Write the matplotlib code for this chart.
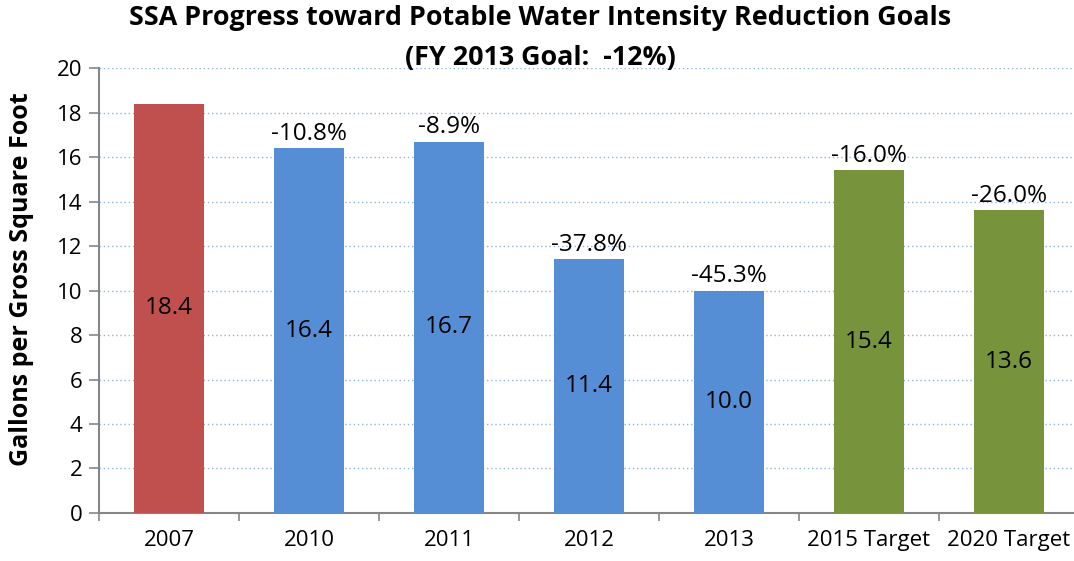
import matplotlib
matplotlib.use("Agg")
import matplotlib.pyplot as plt
import numpy as np

plt.rcParams['font.family'] = ['Open Sans', 'DejaVu Sans']

# data
categories = ["2007", "2010", "2011", "2012", "2013", "2015 Target", "2020 Target"]
values = [18.4, 16.4, 16.7, 11.4, 10.0, 15.4, 13.6]
changes = [None, "-10.8%", "-8.9%", "-37.8%", "-45.3%", "-16.0%", "-26.0%"]
colors = ["#C0504D", "#558ED5", "#558ED5", "#558ED5", "#558ED5", "#77933C", "#77933C"]

fig = plt.figure(figsize=(10.74, 5.61), dpi=100)
# plot area runs a little past the right edge of the picture, as in the original
ax = fig.add_axes([0.0922, 0.0856, 0.9125, 0.793])

x = np.arange(len(categories))
bars = ax.bar(x, values, width=0.5, color=colors, zorder=3)

for xi, v, c in zip(x, values, changes):
    ax.text(xi, v / 2, f"{v:.1f}", ha="center", va="center", fontsize=17.5, zorder=4)
    if c:
        ax.text(xi, v + 0.1, c, ha="center", va="bottom", fontsize=17.5, zorder=4)

ax.set_xlim(-0.5, len(categories) - 0.5)
ax.set_ylim(0, 20)
ax.set_yticks(range(0, 21, 2))
ax.set_xticks(x)
ax.set_xticklabels(categories)
ax.set_xticks(np.arange(-0.5, len(categories), 1), minor=True)
ax.tick_params(axis="x", which="major", length=0, pad=12, labelsize=16)
ax.tick_params(axis="x", which="minor", length=6, width=1.2, color="#868686", direction="out")
ax.tick_params(axis="y", length=7, width=1.2, color="#868686", labelsize=16, pad=5)

ax.grid(axis="y", linestyle=(0, (1, 2)), color="#8EB4E3", linewidth=1, zorder=0)
for side in ["top", "right"]:
    ax.spines[side].set_visible(False)
for side in ["left", "bottom"]:
    ax.spines[side].set_color("#868686")
    ax.spines[side].set_linewidth(1.5)

ax.set_ylabel("Gallons per Gross Square Foot", fontsize=18, fontweight="bold")
ax.yaxis.set_label_coords(-0.066, 0.525)

fig.text(0.503, 0.968, "SSA Progress toward Potable Water Intensity Reduction Goals",
         ha="center", va="center", fontsize=19.4, fontweight="bold")
fig.text(0.503, 0.897, "(FY 2013 Goal:  -12%)",
         ha="center", va="center", fontsize=19.4, fontweight="bold")

fig.savefig("out.png", dpi=100)
